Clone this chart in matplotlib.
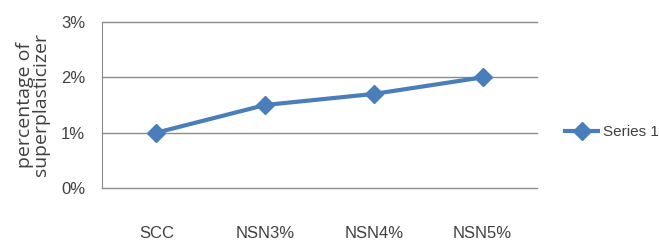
import matplotlib.pyplot as plt
from matplotlib.ticker import FuncFormatter

# valores
categorias = ["SCC", "NSN3%", "NSN4%", "NSN5%"]
valores = [1.0, 1.5, 1.7, 2.0]
ticks_y = [0, 1, 2, 3]

plt.rcParams["font.family"] = ["Liberation Sans", "DejaVu Sans"]

fig = plt.figure(figsize=(6.59, 2.46), dpi=100)
ax = fig.add_axes([102 / 659, 1 - 188 / 246, 435 / 659, 166 / 246])

x = range(len(categorias))
ax.plot(x, valores, color="#4A7EBB", linewidth=3, marker="D", markersize=9,
        label="Series 1", zorder=3)

ax.set_xlim(-0.5, len(categorias) - 0.5)
ax.set_ylim(0, 3)
ax.set_yticks(ticks_y)
ax.yaxis.set_major_formatter(FuncFormatter(lambda v, p: f"{v:.0f}%"))
ax.set_xticks(list(x))
ax.set_xticklabels(categorias)
# linhas de grade (incluindo a do zero)
for t in ticks_y:
    ax.axhline(t, color="#8c8c8c", linewidth=1, clip_on=False, zorder=1)

for s in ["top", "right", "bottom"]:
    ax.spines[s].set_visible(False)
ax.spines["left"].set_color("#8c8c8c")
ax.tick_params(axis="both", length=0, labelsize=12, colors="#404040")
ax.tick_params(axis="x", pad=27)
ax.tick_params(axis="y", pad=12)

ax.set_ylabel("percentage of\nsuperplasticizer", fontsize=14, color="#404040",
              family=["Open Sans", "DejaVu Sans"], linespacing=0.85, labelpad=8)

ax.legend(loc="center left", bbox_to_anchor=(1.064, 0.337), frameon=False,
          fontsize=11, handlelength=2.2, handletextpad=0.3, borderpad=0,
          borderaxespad=0, labelcolor="#404040")

fig.savefig("out.png", dpi=100)
